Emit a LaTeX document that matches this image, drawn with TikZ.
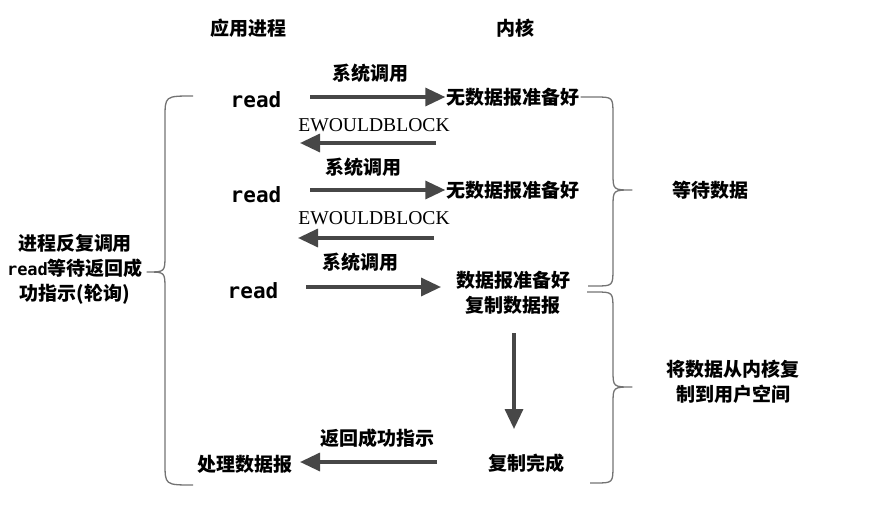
\documentclass[tikz,border=0pt]{standalone}
\usepackage{fontspec}
\setmainfont{Liberation Serif}
\newfontfamily\cjk{Noto Sans CJK SC}
\newfontfamily\monob{DejaVu Sans Mono Bold}
\usetikzlibrary{arrows.meta,calc}
\tikzset{
  zh/.style={font=\cjk\bfseries\fontsize{19}{25}\selectfont, inner sep=1pt, align=center},
  rd/.style={font=\monob\fontsize{21}{25}\selectfont, inner sep=1pt},
  ew/.style={font=\fontsize{19.6}{22}\selectfont, inner sep=1pt},
  flow/.style={draw=black!72, line width=3.4pt,
    -{Triangle[length=20pt,width=18pt]}, shorten >=0pt},
  brace/.style={draw=black!55, line width=1.3pt, line join=round}
}
\begin{document}
\begin{tikzpicture}[x=1pt,y=-1pt]
\useasboundingbox (0,0) rectangle (873,514);

% column headers
\node[zh] (app)  at (248,28) {应用进程};
\node[zh] (kern) at (515,28) {内核};

% application side
\node[rd] (r1) at (256,100) {read};
\node[rd] (r2) at (256,195) {read};
\node[rd] (r3) at (253,291) {read};
\node[zh] (proc) at (245,464) {处理数据报};

% kernel side
\node[zh] (k1) at (513,97)  {无数据报准备好};
\node[zh] (k2) at (513,190) {无数据报准备好};
\node[zh] (k3) at (513,293) {数据报准备好\\复制数据报};
\node[zh] (k4) at (526,463) {复制完成};

% arrow labels
\node[zh] (s1) at (370,73)  {系统调用};
\node[ew] (e1) at (374,125) {EWOULDBLOCK};
\node[zh] (s2) at (363,167) {系统调用};
\node[ew] (e2) at (374,218) {EWOULDBLOCK};
\node[zh] (s3) at (360,262) {系统调用};
\node[zh] (ret) at (377,438) {返回成功指示};

% side notes
\node[zh] (poll) at (75,269) {进程反复调用\\{\monob\fontsize{17}{25}\selectfont read}等待返回成\\功指示(轮询)};
\node[zh] (wait) at (710,190) {等待数据};
\node[zh] (copy) at (733,382) {将数据从内核复\\制到用户空间};

% arrow end points
\coordinate (a1) at (310,97);
\coordinate (b1s) at (436,143);
\coordinate (b1e) at (300,143);
\coordinate (a2) at (310,190);
\coordinate (b2s) at (434,238);
\coordinate (b2e) at (298,238);
\coordinate (a3) at (306,287);
\coordinate (a3e) at (441,287);
\coordinate (dn) at (514,333);
\coordinate (dne) at (514,429);
\coordinate (rs) at (437,462);
\coordinate (re) at (300,462);

% calls and replies
\draw[flow] (a1) -- (k1.west);
\draw[flow] (b1s) -- (b1e);
\draw[flow] (a2) -- (k2.west);
\draw[flow] (b2s) -- (b2e);
\draw[flow] (a3) -- (a3e);
\draw[flow] (dn) -- (dne);
\draw[flow] (rs) -- (re);

% brace around the polling phase
\draw[brace] (193,96) .. controls (165,96) .. (165,118) -- (165,255)
  .. controls (165,272) .. (147,272) .. controls (165,272) .. (165,289)
  -- (165,463) .. controls (165,485) .. (193,485);

% brace: waiting for data
\draw[brace] (k1.east) -- (595,97) .. controls (613,97) .. (613,115) -- (613,173)
  .. controls (613,190) .. (632,190) .. controls (613,190) .. (613,207)
  -- (613,268) .. controls (613,286) .. (595,286) -- (588,286);

% brace: copying data to user space
\draw[brace] (587,292) -- (595,292) .. controls (613,292) .. (613,310) -- (613,370)
  .. controls (613,387) .. (632,387) .. controls (613,387) .. (613,404)
  -- (613,465) .. controls (613,483) .. (595,483) -- (590,483);
\end{tikzpicture}
\end{document}
